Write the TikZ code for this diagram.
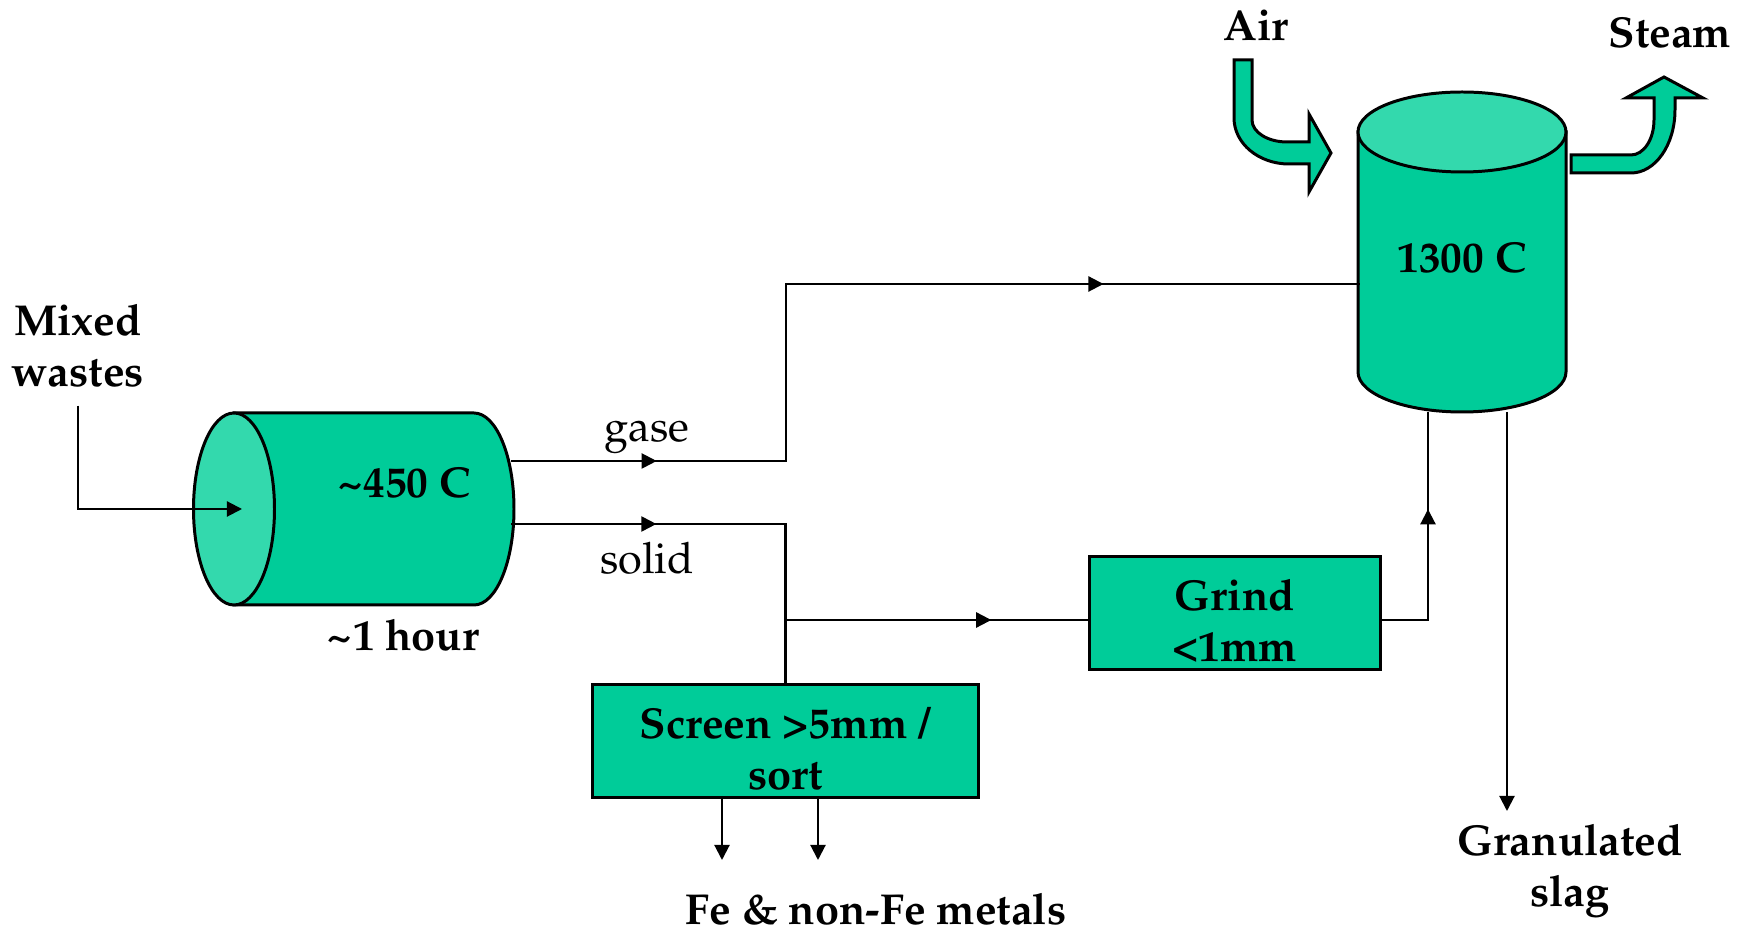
\documentclass[tikz,border=0pt]{standalone}
\usepackage[T1]{fontenc}
\usepackage{mathpazo}
\usetikzlibrary{arrows.meta,decorations.markings}
\definecolor{vessel}{RGB}{0,204,153}
\definecolor{vesseltop}{RGB}{51,217,173}

\begin{document}
\begin{tikzpicture}
[x=0.01cm,y=-0.01cm,
 every node/.style={font=\fontsize{12.3}{14.5}\selectfont\bfseries, inner sep=0pt, align=center},
 plain/.style={font=\fontsize{12.3}{14.5}\selectfont},
 unit/.style={draw=black, fill=vessel, line width=0.85pt, text height=27.5pt},
 body/.style={draw=black, line width=0.85pt},
 flow/.style={line width=0.6pt},
 tip/.style={-{Triangle[length=4.3pt,width=4.3pt]}},
 midarrow/.style={postaction={decorate,decoration={markings,mark=at position #1 with {\arrow{Triangle[length=4.3pt,width=4.3pt]}}}}}]
\useasboundingbox (0,0) rectangle (1747,934);

% kiln and melter
\draw[body, fill=vessel] (234,413) -- (474,413) arc[start angle=-90, end angle=90, x radius=40, y radius=96] -- (234,605) -- cycle;
\draw[body, fill=vesseltop] (234,509) ellipse[x radius=40.5, y radius=96];
\draw[body, fill=vessel] (1358,132) -- (1358,372) arc[start angle=180, end angle=0, x radius=104, y radius=40] -- (1566,132) -- cycle;
\draw[body, fill=vesseltop] (1462,132) ellipse[x radius=104, y radius=40];

% air in, steam out
\draw[body, fill=vessel] (1234,60) -- (1252,60) -- (1252,120) arc[start angle=180, end angle=90, x radius=35, y radius=22] -- (1309,142) -- (1309,114) -- (1331,153) -- (1309,192) -- (1309,164) -- (1289,164) arc[start angle=90, end angle=180, x radius=55, y radius=46] -- cycle;
\draw[body, fill=vessel] (1571,155) -- (1631,155) arc[start angle=90, end angle=0, x radius=23, y radius=35] -- (1654,98) -- (1626,98) -- (1664,77) -- (1703,98) -- (1675,98) -- (1675,110) arc[start angle=0, end angle=90, x radius=44, y radius=63] -- (1571,173) -- cycle;

\node (mixed) at (78,346) {Mixed\\wastes};
\node (kiln) at (404,483) {\textasciitilde450 C};
\node (hour) at (403,635) {\textasciitilde1 hour};
\node (melter) at (1462,258) {1300 C};
\node (air) at (1256,26) {Air};
\node (steam) at (1670,33) {Steam};
\node (gaselbl) [plain, anchor=base] at (647,442) {gase};
\node (solidlbl) [plain, anchor=base] at (647,574) {solid};
\node (screen) [unit, minimum width=3.85cm, minimum height=1.12cm] at (785.5,741) {Screen >5mm /\\sort};
\node (grind) [unit, minimum width=2.91cm, minimum height=1.12cm] at (1235,613) {Grind\\<1mm};
\node (metals) at (876,909) {Fe \& non-Fe metals};
\node (slag) at (1570,871) {Granulated\\slag};

\coordinate (feed) at (242,509);
\coordinate (gout) at (511,461);
\coordinate (sout) at (511,524);
\coordinate (gin) at (1360,284);
\coordinate (split) at (786,620);
\coordinate (grindin) at (1428,412);
\coordinate (slagout) at (1507,412);
\coordinate (slagend) at (1507,811);
\coordinate (fe1) at (722,860);
\coordinate (fe2) at (818,860);

\draw[flow, tip] ([yshift=-5pt]mixed.south) |- (feed);
\draw[flow, midarrow=0.142, midarrow=0.750] (gout) -- (gout -| split) |- (gin);
\draw[flow, midarrow=0.335] (sout) -| (screen.north);
\draw[flow, midarrow=0.680] (split) -- (split -| grind.west);
\draw[flow, midarrow=0.617] (split -| grind.east) -| (grindin);
\draw[flow, tip] (slagout) -- (slagend);
\draw[flow, tip] (screen.south -| fe1) -- (fe1);
\draw[flow, tip] (screen.south -| fe2) -- (fe2);
\end{tikzpicture}
\end{document}
